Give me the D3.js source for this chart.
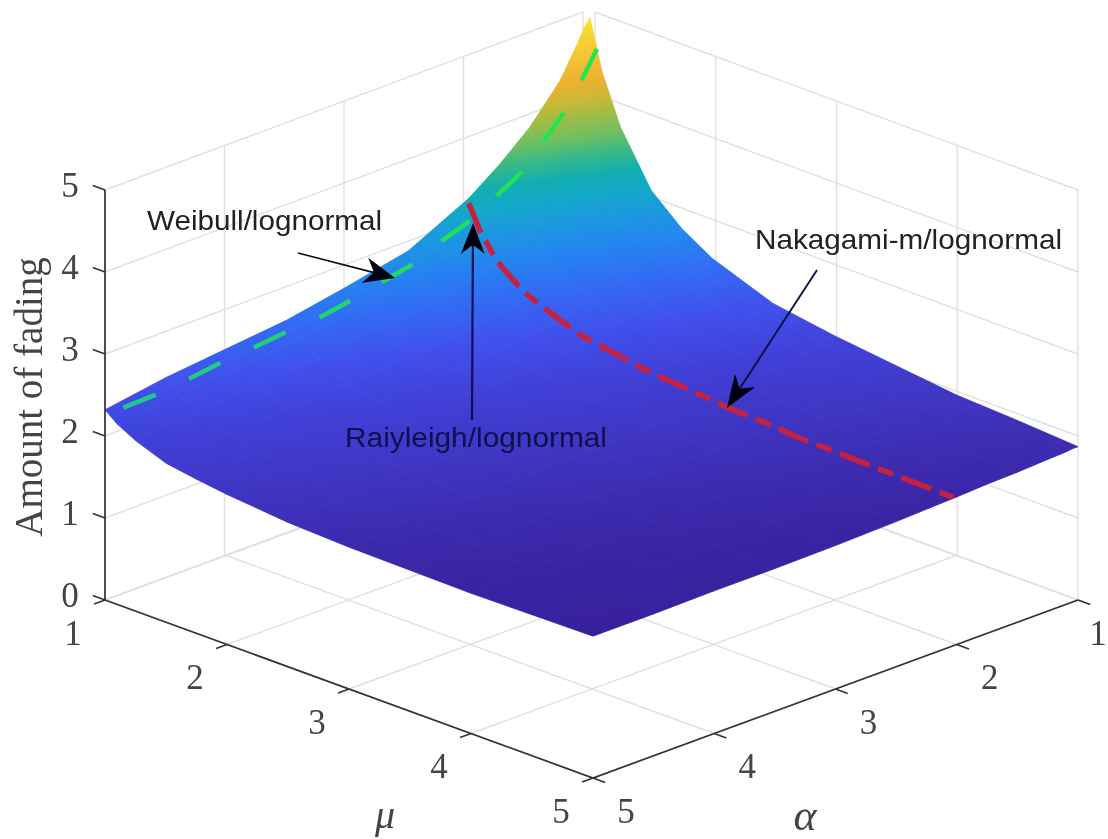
<!DOCTYPE html>
<html>
<head>
<meta charset="utf-8">
<script src="https://cdn.jsdelivr.net/npm/d3@7"></script>
<style>
html, body { margin: 0; background: #fff; }
svg { display: block; filter: blur(0.7px); }
</style>
</head>
<body>
<div id="chart"></div>
<script>
// values
var muTicks = [1, 2, 3, 4, 5];
var alphaTicks = [1, 2, 3, 4, 5];
var zTicks = [0, 1, 2, 3, 4, 5];

// surface nodes, finer near the peak
var muGrid = [1, 1.05, 1.1, 1.25, 1.5, 1.75, 2, 2.5, 3, 3.5, 4, 4.5, 5];
var alphaGrid = [1, 1.05, 1.1, 1.25, 1.5, 1.75, 2, 2.5, 3, 3.5, 4, 4.5, 5];
// one row per alpha, one column per mu
var fading = [
	[4.93, 4.62, 4.32, 3.73, 3.10, 2.77, 2.54, 2.26, 2.14, 2.05, 1.96, 1.92, 1.87],
	[4.83, 4.52, 4.24, 3.67, 3.05, 2.73, 2.51, 2.24, 2.13, 2.04, 1.95, 1.91, 1.87],
	[4.68, 4.38, 4.11, 3.58, 2.98, 2.68, 2.47, 2.22, 2.11, 2.02, 1.94, 1.90, 1.86],
	[4.29, 4.03, 3.80, 3.33, 2.81, 2.55, 2.37, 2.15, 2.05, 1.98, 1.91, 1.88, 1.85],
	[3.86, 3.64, 3.45, 3.06, 2.63, 2.41, 2.26, 2.07, 1.99, 1.93, 1.87, 1.85, 1.83],
	[3.54, 3.36, 3.19, 2.86, 2.49, 2.31, 2.18, 2.02, 1.95, 1.90, 1.85, 1.83, 1.82],
	[3.27, 3.09, 2.93, 2.63, 2.34, 2.19, 2.08, 1.95, 1.90, 1.85, 1.81, 1.81, 1.80],
	[2.90, 2.76, 2.66, 2.44, 2.21, 2.09, 2.01, 1.90, 1.86, 1.83, 1.79, 1.78, 1.77],
	[2.74, 2.65, 2.56, 2.37, 2.16, 2.05, 1.98, 1.88, 1.84, 1.81, 1.78, 1.77, 1.75],
	[2.60, 2.51, 2.43, 2.27, 2.09, 2.00, 1.93, 1.86, 1.82, 1.80, 1.77, 1.76, 1.74],
	[2.52, 2.44, 2.36, 2.22, 2.05, 1.97, 1.91, 1.84, 1.81, 1.79, 1.76, 1.75, 1.74],
	[2.44, 2.37, 2.30, 2.17, 2.02, 1.94, 1.89, 1.83, 1.80, 1.78, 1.76, 1.75, 1.73],
	[2.32, 2.26, 2.20, 2.08, 1.94, 1.88, 1.83, 1.76, 1.73, 1.72, 1.71, 1.72, 1.73]
];

// green dashed line (drawn just inside the mu = 1 edge)
var weibullAlpha = [4.91, 4.65, 4.36, 4.11, 3.82, 3.58, 3.29, 3.06, 2.79, 2.53, 2.28, 2.08, 1.82, 1.62, 1.45, 1.27, 1.13, 1.00];
var weibullZ = [2.33, 2.34, 2.39, 2.44, 2.48, 2.52, 2.55, 2.61, 2.70, 2.78, 2.94, 3.04, 3.25, 3.42, 3.69, 3.96, 4.27, 4.59];
// red dashed line (alpha = 2)
var nakagamiMu = [1, 1.09, 1.2, 1.27, 1.44, 1.56, 1.89, 1.99, 2.42, 2.62, 2.95, 3.12, 3.49, 3.69, 4.02, 4.23, 4.59, 4.97];
var nakagamiZ = [3.21, 2.93, 2.69, 2.58, 2.39, 2.30, 2.11, 2.08, 1.97, 1.94, 1.90, 1.87, 1.85, 1.82, 1.81, 1.80, 1.79, 1.78];

// colours of the surface from the peak down to the lowest corner
var surfaceColors = ["#f8e030", "#f5c838", "#eeb030", "#c8b838", "#a0bc45", "#70c060", "#38b888", "#12aeb0", "#14a8c8", "#1c98e0", "#2484f0", "#3468f4", "#4050ec", "#4040d8", "#3f36c4", "#3c2cb0", "#3a24a4", "#38209c"];
var surfaceLevels = [20, 50, 80, 100, 115, 135, 155, 175, 195, 220, 250, 290, 330, 380, 440, 500, 560, 636];

var width = 1108, height = 839;
var backX = 590, backY = 422; // floor corner mu = 1, alpha = 1

var muX = d3.scaleLinear().domain([1, 5]).range([0, 488]);
var muY = d3.scaleLinear().domain([1, 5]).range([0, 178]);
var alphaX = d3.scaleLinear().domain([1, 5]).range([0, -485]);
var alphaY = d3.scaleLinear().domain([1, 5]).range([0, 178]);
var zY = d3.scaleLinear().domain([0, 5]).range([0, -410]);
// the two back walls do not quite meet in the picture
var leftWallX = d3.scaleLinear().domain([5, 1]).range([105, 583]);
var rightWallX = d3.scaleLinear().domain([1, 5]).range([595, 1078]);

function project(mu, alpha, z) {
	return [backX + muX(mu) + alphaX(alpha), backY + muY(mu) + alphaY(alpha) + zY(z)];
}

var svg = d3.select("#chart").append("svg")
	.attr("width", width)
	.attr("height", height);

var defs = svg.append("defs");
// slightly tilted: the left side is brighter than the right at the same height
var grad = defs.append("linearGradient")
	.attr("id", "surfaceFill")
	.attr("gradientUnits", "userSpaceOnUse")
	.attr("x1", 590).attr("y1", 0)
	.attr("x2", 671.8).attr("y2", 629.4);
grad.selectAll("stop")
	.data(surfaceLevels)
	.enter().append("stop")
	.attr("offset", function(d) { return d / 640; })
	.attr("stop-color", function(d, i) { return surfaceColors[i]; });

// green line reads teal over the blue part and bright over the peak
var greenGrad = defs.append("linearGradient")
	.attr("id", "weibullStroke")
	.attr("gradientUnits", "userSpaceOnUse")
	.attr("x1", 105).attr("y1", 0)
	.attr("x2", 600).attr("y2", 0);
greenGrad.append("stop").attr("offset", 0).attr("stop-color", "#1cc890");
greenGrad.append("stop").attr("offset", 1).attr("stop-color", "#20e848");

var line = d3.line();

// grid on floor and walls
var gridColor = "#e0e0e0";
var gridG = svg.append("g")
	.attr("fill", "none")
	.attr("stroke", gridColor)
	.attr("stroke-width", 1.4);

muTicks.forEach(function(m) {
	gridG.append("path").attr("d", line([project(m, 1, 0), project(m, 5, 0)]));
	gridG.append("path").attr("d", line([[rightWallX(m), project(m, 1, 0)[1]], [rightWallX(m), project(m, 1, 5)[1]]]));
});
alphaTicks.forEach(function(a) {
	gridG.append("path").attr("d", line([project(1, a, 0), project(5, a, 0)]));
	gridG.append("path").attr("d", line([[leftWallX(a), project(1, a, 0)[1]], [leftWallX(a), project(1, a, 5)[1]]]));
});
zTicks.forEach(function(z) {
	gridG.append("path").attr("d", line([[leftWallX(5), project(1, 5, z)[1]], [leftWallX(1), project(1, 1, z)[1]]]));
	gridG.append("path").attr("d", line([[rightWallX(1), project(1, 1, z)[1]], [rightWallX(5), project(5, 1, z)[1]]]));
});

// surface cells
var cells = [];
for (var a = 0; a < alphaGrid.length - 1; a++) {
	for (var m = 0; m < muGrid.length - 1; m++) {
		cells.push([
			project(muGrid[m], alphaGrid[a], fading[a][m]),
			project(muGrid[m + 1], alphaGrid[a], fading[a][m + 1]),
			project(muGrid[m + 1], alphaGrid[a + 1], fading[a + 1][m + 1]),
			project(muGrid[m], alphaGrid[a + 1], fading[a + 1][m])
		]);
	}
}
svg.append("g").selectAll("path")
	.data(cells)
	.enter().append("path")
	.attr("d", function(d) { return line(d) + "Z"; })
	.attr("fill", "url(#surfaceFill)")
	.attr("stroke", "url(#surfaceFill)")
	.attr("stroke-width", 0.8)
	.attr("stroke-linejoin", "round");

// axes
var axisColor = "#333";
var axisG = svg.append("g")
	.attr("fill", "none")
	.attr("stroke", axisColor)
	.attr("stroke-width", 1.7);
axisG.append("path").attr("d", line([project(1, 5, 0), project(5, 5, 0), project(5, 1, 0)]));
axisG.append("path").attr("d", line([project(1, 5, 0), project(1, 5, 5)]));
muTicks.forEach(function(m) {
	axisG.append("path").attr("d", line([project(m, 5, 0), project(m, 5.09, 0)]));
});
alphaTicks.forEach(function(a) {
	axisG.append("path").attr("d", line([project(5, a, 0), project(5.1, a, 0)]));
});
zTicks.forEach(function(z) {
	axisG.append("path").attr("d", line([project(1, 5, z), project(0.9, 5, z)]));
});

// tick labels
var serif = "'Liberation Serif', 'Times New Roman', serif";
var sans = "'Liberation Sans', Arial, sans-serif";
var textColor = "#444";

function tickLabel(x, y, txt) {
	svg.append("text")
		.attr("x", x)
		.attr("y", y)
		.attr("text-anchor", "middle")
		.attr("dominant-baseline", "central")
		.attr("font-family", serif)
		.attr("font-size", 35)
		.attr("fill", textColor)
		.text(txt);
}
muTicks.forEach(function(m) {
	var p = project(m, 5, 0);
	tickLabel(p[0] - 32, p[1] + 33, m);
});
alphaTicks.forEach(function(a) {
	var p = project(5, a, 0);
	// the rightmost label sits on the picture edge, keep it inside
	tickLabel(Math.min(p[0] + 33, width - 10), p[1] + 33, a);
});
zTicks.forEach(function(z) {
	var p = project(1, 5, z);
	tickLabel(70, p[1] - 5, z);
});

// axis titles
svg.append("text")
	.attr("transform", "translate(42,397) rotate(-90)")
	.attr("text-anchor", "middle")
	.attr("font-family", serif)
	.attr("font-size", 39)
	.attr("fill", textColor)
	.text("Amount of fading");
svg.append("text")
	.attr("x", 385).attr("y", 828)
	.attr("text-anchor", "middle")
	.attr("font-family", serif)
	.attr("font-style", "italic")
	.attr("font-size", 40)
	.attr("fill", textColor)
	.text("μ");
svg.append("text")
	.attr("x", 805).attr("y", 830)
	.attr("text-anchor", "middle")
	.attr("font-family", serif)
	.attr("font-style", "italic")
	.attr("font-size", 44)
	.attr("fill", textColor)
	.text("α");

// dashed curves
svg.append("path")
	.attr("d", line(weibullAlpha.map(function(a, i) { return project(1.06, a, weibullZ[i]); })))
	.attr("fill", "none")
	.attr("stroke", "url(#weibullStroke)")
	.attr("stroke-width", 4.5)
	.attr("stroke-dasharray", "35 37");
svg.append("path")
	.attr("d", line(nakagamiMu.map(function(m, i) { return project(m, 2, nakagamiZ[i]); })))
	.attr("fill", "none")
	.attr("stroke", "#c8203f")
	.attr("stroke-width", 5.5)
	.attr("stroke-dasharray", "32 9 16 9");

// arrows
function arrow(x0, y0, x1, y1, color, w, headLen, headHalf) {
	var ang = Math.atan2(y1 - y0, x1 - x0);
	var ux = Math.cos(ang), uy = Math.sin(ang);
	svg.append("path")
		.attr("d", line([[x0, y0], [x1 - ux * headLen * 0.6, y1 - uy * headLen * 0.6]]))
		.attr("stroke", color)
		.attr("stroke-width", w)
		.attr("fill", "none");
	svg.append("path")
		.attr("d", line([
			[x1, y1],
			[x1 - ux * headLen - uy * headHalf, y1 - uy * headLen + ux * headHalf],
			[x1 - ux * headLen * 0.7, y1 - uy * headLen * 0.7],
			[x1 - ux * headLen + uy * headHalf, y1 - uy * headLen - ux * headHalf]
		]) + "Z")
		.attr("fill", "#000010");
}
arrow(298, 253, 395, 278, "#111", 1.8, 31, 13);
arrow(472, 420, 473, 223, "#10104a", 2.2, 31, 12);
arrow(817, 270, 727, 408, "#10103c", 1.9, 33, 12);

// annotations
function note(x, y, len, txt, color) {
	svg.append("text")
		.attr("x", x)
		.attr("y", y)
		.attr("font-family", sans)
		.attr("font-size", 28)
		.attr("textLength", len)
		.attr("lengthAdjust", "spacingAndGlyphs")
		.attr("fill", color)
		.text(txt);
}
note(147, 230, 235, "Weibull/lognormal", "#222");
note(755, 249, 307, "Nakagami-m/lognormal", "#222");
note(345, 447, 262, "Raiyleigh/lognormal", "#10104a");
</script>
</body>
</html>
